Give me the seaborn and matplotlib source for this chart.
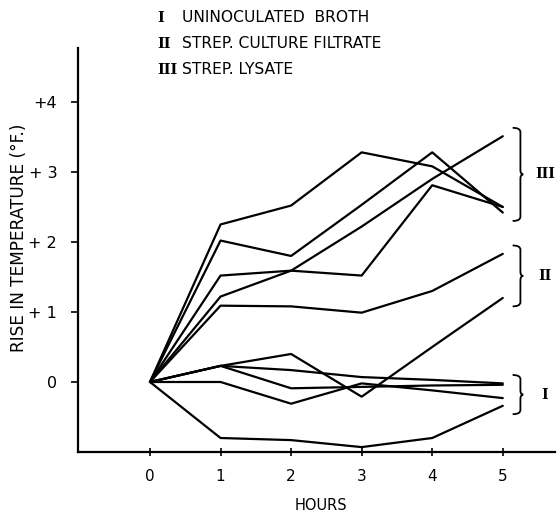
import numpy as np
import pandas as pd
import matplotlib
matplotlib.use("Agg")
import matplotlib.pyplot as plt
from matplotlib.path import Path
from matplotlib.patches import PathPatch
import seaborn as sns

# hours after injection
hours = [0, 1, 2, 3, 4, 5]

# III strep. lysate
lysate_a = [0, 2.25, 2.52, 3.28, 3.08, 2.50]
lysate_b = [0, 2.02, 1.80, 2.53, 3.28, 2.42]
lysate_c = [0, 1.22, 1.59, 2.22, 2.90, 3.51]
lysate_d = [0, 1.52, 1.59, 1.52, 2.81, 2.50]

# II strep. culture filtrate
filtrate_a = [0, 1.09, 1.08, 0.99, 1.30, 1.83]
filtrate_b = [0, 0.23, 0.40, -0.21, 0.50, 1.20]

# I uninoculated broth
broth_a = [0, -0.80, -0.83, -0.93, -0.80, -0.34]
broth_b = [0, 0.00, -0.31, -0.02, -0.12, -0.23]
broth_c = [0, 0.23, -0.09, -0.07, -0.05, -0.04]
broth_d = [0, 0.23, 0.17, 0.07, 0.03, -0.02]

groups = {
    "III": [lysate_a, lysate_b, lysate_c, lysate_d],
    "II": [filtrate_a, filtrate_b],
    "I": [broth_a, broth_b, broth_c, broth_d],
}
legend_lines = [("I", "UNINOCULATED  BROTH"),
                ("II", "STREP. CULTURE FILTRATE"),
                ("III", "STREP. LYSATE")]
ytick_vals = [0, 1, 2, 3, 4]
ytick_labels = ["0", "+ 1", "+ 2", "+ 3", "+4"]

# long table for seaborn
rows = []
k = 0
for g, series in groups.items():
    for s in series:
        for h, v in zip(hours, s):
            rows.append({"hours": h, "rise": v, "group": g, "animal": k})
        k += 1
df = pd.DataFrame(rows)

sns.set_style("ticks")
plt.rcParams["font.family"] = ["DejaVu Sans"]
for key in ["text.color", "axes.labelcolor", "xtick.color", "ytick.color"]:
    plt.rcParams[key] = "black"

fig = plt.figure(figsize=(5.58, 5.13), dpi=100)
ax = fig.add_axes([0.1398, 0.1189, 0.8548, 0.7875])

sns.lineplot(data=df, x="hours", y="rise", units="animal", estimator=None,
             color="black", lw=1.6, ax=ax, legend=False)

ax.set_xlim(-1.02, 5.74)
ax.set_ylim(-1.0, 4.77)
sns.despine(ax=ax)
for sp in ["left", "bottom"]:
    ax.spines[sp].set_linewidth(1.6)
    ax.spines[sp].set_color("black")

ax.set_xticks(hours)
ax.set_xticklabels([str(h) for h in hours], fontsize=11)
ax.set_yticks(ytick_vals)
ax.set_yticklabels(ytick_labels, fontsize=11.5)
ax.tick_params(axis="x", direction="inout", length=6, width=1.2, pad=9)
ax.tick_params(axis="y", direction="out", length=5, width=1.2, pad=10)

ax.set_xlabel("HOURS", fontsize=10.5)
ax.xaxis.set_label_coords(0.51, -0.115)
ax.set_ylabel("RISE IN TEMPERATURE (°F.)", fontsize=12.2)
ax.yaxis.set_label_coords(-0.105, 0.53)

# braces for each group, spanning its final values
x_tip, x_spine, x_mid = 5.14, 5.25, 5.29
for g, series in groups.items():
    ends = [s[-1] for s in series]
    top = max(ends) + 0.12
    bot = min(ends) - 0.12
    mid = (top + bot) / 2
    h = 0.06
    verts = [(x_tip, top), (x_spine, top), (x_spine, top - h),
             (x_spine, mid + h),
             (x_spine, mid), (x_mid, mid),
             (x_spine, mid), (x_spine, mid - h),
             (x_spine, bot + h),
             (x_spine, bot), (x_tip, bot)]
    codes = [Path.MOVETO, Path.CURVE3, Path.CURVE3,
             Path.LINETO,
             Path.CURVE3, Path.CURVE3,
             Path.CURVE3, Path.CURVE3,
             Path.LINETO,
             Path.CURVE3, Path.CURVE3]
    ax.add_patch(PathPatch(Path(verts, codes), fill=False, lw=1.3,
                           color="black", clip_on=False))
    ax.text(5.6, mid, g, fontsize=10, family="DejaVu Serif", fontweight="bold",
            ha="center", va="center")

# legend text at the top
for i, (num, label) in enumerate(legend_lines):
    y = 1 - (18 + 26 * i) / 513
    fig.text(157 / 558, y, num, fontsize=10.5, family="DejaVu Serif",
             fontweight="bold", ha="left", va="center")
    fig.text(182 / 558, y, label, fontsize=11.2, ha="left", va="center")

fig.savefig("out.png", dpi=100)
